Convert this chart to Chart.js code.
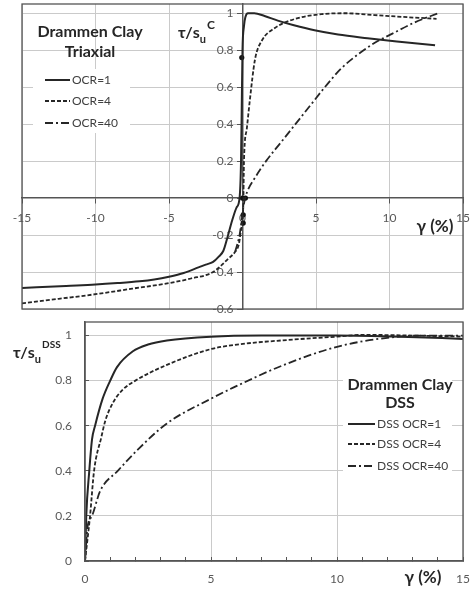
<!DOCTYPE html>
<html>
<head>
<meta charset="utf-8">
<script src="https://cdn.jsdelivr.net/npm/chart.js@4.4.0/dist/chart.umd.min.js"></script>
<style>
body { margin: 0; background: #fff; }
#wrap { position: relative; width: 470px; height: 589px; }
canvas { position: absolute; left: 0; }
</style>
</head>
<body>
<div id="wrap">
  <canvas id="triaxial" width="470" height="316" style="top:0"></canvas>
  <canvas id="dss" width="470" height="273" style="top:316px"></canvas>
</div>
<script>
// ---- triaxial data (strain %, tau/su) ----
const triStrain1 = [-15, -12, -10, -8.5, -7, -6, -5, -4, -3, -2.5, -2, -1.6, -1.3, -1.05, -0.7, -0.4, -0.2, -0.1, -0.05, 0, 0.1, 0.2, 0.37, 0.8, 1.5, 2.4, 3.5, 4.9, 6.5, 8.5, 10.5, 13.1];
const triTau1    = [-0.486, -0.475, -0.468, -0.46, -0.45, -0.44, -0.425, -0.405, -0.375, -0.36, -0.345, -0.315, -0.285, -0.22, -0.12, -0.05, 0, 0.2, 0.5, 0.8, 0.93, 0.98, 1.0, 1.0, 0.985, 0.96, 0.935, 0.908, 0.885, 0.865, 0.847, 0.827];
const triStrain4 = [-15, -12.5, -10, -7.5, -5, -3.5, -2, -1, -0.5, -0.25, -0.1, 0.05, 0.1, 0.3, 0.5, 0.85, 1.3, 2.2, 3.6, 5.4, 7, 9, 10.9, 13.2];
const triTau4    = [-0.57, -0.545, -0.52, -0.49, -0.46, -0.435, -0.4, -0.33, -0.29, -0.25, -0.17, -0.05, 0.2, 0.38, 0.53, 0.75, 0.85, 0.92, 0.97, 0.995, 1.0, 0.99, 0.98, 0.97];
const triStrain40 = [-0.5, -0.2, 0.1, 0.3, 0.85, 1.6, 2.6, 3.6, 4.6, 5.6, 6.7, 7.9, 9, 10.2, 11.7, 13.3];
const triTau40    = [-0.29, -0.2, -0.03, 0.03, 0.11, 0.2, 0.3, 0.4, 0.5, 0.6, 0.7, 0.78, 0.84, 0.89, 0.95, 1.0];
const triDotStrain = [-0.05, 0, 0.2, 0.05, 0.05];
const triDotTau    = [0.76, 0, 0, -0.09, -0.135];
const triXTicks = [-15, -10, -5, 0, 5, 10, 15];
const triYTicks = [-0.6, -0.4, -0.2, 0, 0.2, 0.4, 0.6, 0.8, 1];

// ---- DSS data ----
const dssStrain1 = [0, 0.05, 0.17, 0.28, 0.4, 0.7, 1, 1.27, 1.9, 2.5, 3.25, 5, 7, 10, 12.5, 15];
const dssTau1    = [0, 0.2, 0.4, 0.54, 0.6, 0.72, 0.8, 0.86, 0.93, 0.96, 0.978, 0.995, 1.0, 1.0, 0.995, 0.985];
const dssStrain4 = [0, 0.2, 0.36, 0.65, 0.8, 1.1, 1.5, 2, 3.25, 5, 5.9, 8, 10, 11, 13, 15];
const dssTau4    = [0, 0.2, 0.4, 0.55, 0.62, 0.7, 0.76, 0.8, 0.87, 0.94, 0.958, 0.98, 0.995, 1.003, 1.0, 0.995];
const dssStrain40 = [0, 0.1, 0.28, 0.6, 1.3, 2.06, 3.25, 5, 5.9, 7.9, 10, 12, 13.5, 15];
const dssTau40    = [0, 0.15, 0.2, 0.31, 0.4, 0.49, 0.61, 0.72, 0.77, 0.87, 0.95, 0.99, 1.0, 1.0];
const dssXLabels = [0, 5, 10, 15];
const dssYTicks = [0, 0.2, 0.4, 0.6, 0.8, 1];

const FONT = "Lato, 'DejaVu Sans', sans-serif";
const gridCol = '#cacaca';
const axisCol = '#555555';
const tickCol = '#595959';
const ink = '#262626';

function pts(xs, ys) {
  return xs.map((x, i) => ({ x: x, y: ys[i] }));
}

function lineSet(label, xs, ys, dash) {
  return {
    label: label,
    data: pts(xs, ys),
    borderColor: ink,
    borderWidth: dash.length ? 1.8 : 2,
    borderDash: dash,
    pointRadius: 0,
    cubicInterpolationMode: 'monotone',
    fill: false
  };
}

function drawTau(ctx, x, y, sup, supSize) {
  ctx.save();
  ctx.fillStyle = ink;
  ctx.textAlign = 'left';
  ctx.textBaseline = 'middle';
  ctx.font = 'bold 16px ' + FONT;
  ctx.fillText('τ/s', x, y);
  const w = ctx.measureText('τ/s').width;
  ctx.font = 'bold 11px ' + FONT;
  ctx.fillText('u', x + w, y + 6);
  const w2 = ctx.measureText('u').width;
  ctx.font = 'bold ' + supSize + 'px ' + FONT;
  ctx.fillText(sup, x + w + w2 + 1, y - 8);
  ctx.restore();
}

function drawLegend(ctx, chart, rows, x1, x2) {
  const sets = chart.data.datasets;
  ctx.save();
  ctx.font = '12px ' + FONT;
  ctx.textBaseline = 'middle';
  ctx.textAlign = 'left';
  rows.forEach((y, i) => {
    const ds = sets[i];
    ctx.strokeStyle = ds.borderColor;
    ctx.lineWidth = ds.borderWidth;
    ctx.setLineDash(ds.borderDash);
    ctx.beginPath();
    ctx.moveTo(x1, y);
    ctx.lineTo(x2, y);
    ctx.stroke();
    ctx.setLineDash([]);
    ctx.fillStyle = '#404040';
    ctx.fillText(ds.label, x2 + 2, y);
  });
  ctx.restore();
}

function frame(chart) {
  const a = chart.chartArea, ctx = chart.ctx;
  ctx.save();
  ctx.strokeStyle = axisCol;
  ctx.lineWidth = 1.3;
  ctx.strokeRect(a.left, a.top, a.right - a.left, a.bottom - a.top);
  ctx.restore();
}

// labels of an axis placed at x=0 sit right on the line, so nudge them left
function shiftLabels(s, dx) {
  if (s._shifted) return;
  const orig = s.drawLabels.bind(s);
  s.drawLabels = area => {
    s.ctx.save();
    s.ctx.translate(dx, 0);
    orig(area);
    s.ctx.restore();
  };
  s._shifted = true;
}

// ---------- triaxial ----------
const triDecor = {
  id: 'triDecor',
  afterDraw(chart) {
    const ctx = chart.ctx;
    frame(chart);
    ctx.save();
    ctx.fillStyle = '#fff';
    ctx.fillRect(33, 69, 97, 64);
    ctx.fillStyle = ink;
    ctx.font = 'bold 16px ' + FONT;
    ctx.textAlign = 'center';
    ctx.textBaseline = 'middle';
    ctx.fillText('Drammen Clay', 90, 32);
    ctx.fillText('Triaxial', 90, 52);
    ctx.font = 'bold 17px ' + FONT;
    ctx.fillText('γ (%)', 435, 227);
    ctx.restore();
    drawLegend(ctx, chart, [80, 101, 123], 45, 70);
    drawTau(ctx, 178, 33, 'C', 12);
  }
};

new Chart(document.getElementById('triaxial'), {
  type: 'line',
  data: {
    datasets: [
      lineSet('OCR=1', triStrain1, triTau1, []),
      lineSet('OCR=4', triStrain4, triTau4, [4, 2]),
      lineSet('OCR=40', triStrain40, triTau40, [8, 3, 2, 3]),
      {
        type: 'scatter',
        label: 'points',
        data: pts(triDotStrain, triDotTau),
        pointRadius: 2.6,
        pointBackgroundColor: '#111',
        pointBorderWidth: 0
      }
    ]
  },
  options: {
    responsive: false,
    animation: false,
    layout: { padding: { left: 22, right: 7, top: 4, bottom: 7 } },
    plugins: { legend: { display: false }, tooltip: { enabled: false } },
    scales: {
      x: {
        type: 'linear',
        min: -15, max: 15,
        position: { y: 0 },
        afterBuildTicks: s => { s.ticks = triXTicks.map(v => ({ value: v })); },
        afterFit: s => { s.paddingLeft = 0; s.paddingRight = 0; },
        grid: { color: c => (c.tick && c.tick.value === 0) ? 'rgba(0,0,0,0)' : gridCol, tickColor: axisCol, tickLength: 5 },
        border: { color: axisCol, width: 1.5 },
        ticks: { color: tickCol, font: { family: FONT, size: 12 }, padding: 8, maxRotation: 0, autoSkip: false, callback: v => String(v) }
      },
      y: {
        type: 'linear',
        min: -0.6, max: 1.05,
        position: { x: 0 },
        afterBuildTicks: s => { s.ticks = triYTicks.map(v => ({ value: v })); },
        afterFit: s => { s.paddingTop = 0; s.paddingBottom = 0; shiftLabels(s, -9); },
        grid: { color: c => (c.tick && c.tick.value === 0) ? 'rgba(0,0,0,0)' : gridCol, tickColor: axisCol, tickLength: 5 },
        border: { color: axisCol, width: 1.5 },
        ticks: { color: tickCol, font: { family: FONT, size: 12 }, padding: 4, autoSkip: false, callback: v => String(v) }
      }
    }
  },
  plugins: [triDecor]
});

// ---------- DSS ----------
const dssDecor = {
  id: 'dssDecor',
  afterDraw(chart) {
    const ctx = chart.ctx;
    frame(chart);
    ctx.save();
    ctx.fillStyle = '#fff';
    ctx.fillRect(343, 56, 109, 106);
    ctx.fillStyle = ink;
    ctx.font = 'bold 16px ' + FONT;
    ctx.textAlign = 'center';
    ctx.textBaseline = 'middle';
    ctx.fillText('Drammen Clay', 400, 69);
    ctx.fillText('DSS', 400, 87);
    ctx.font = 'bold 17px ' + FONT;
    ctx.fillText('γ (%)', 423, 262);
    ctx.restore();
    drawLegend(ctx, chart, [108, 128, 150], 348, 375);
    drawTau(ctx, 13, 37, 'DSS', 10);
  }
};

new Chart(document.getElementById('dss'), {
  type: 'line',
  data: {
    datasets: [
      lineSet('DSS OCR=1', dssStrain1, dssTau1, []),
      lineSet('DSS OCR=4', dssStrain4, dssTau4, [4, 2]),
      lineSet('DSS OCR=40', dssStrain40, dssTau40, [8, 3, 2, 3])
    ]
  },
  options: {
    responsive: false,
    animation: false,
    layout: { padding: { left: 0, right: 7, top: 6, bottom: 0 } },
    plugins: { legend: { display: false }, tooltip: { enabled: false } },
    scales: {
      x: {
        type: 'linear',
        min: 0, max: 15,
        afterFit: s => { s.height = 28; s.paddingLeft = 0; s.paddingRight = 0; },
        grid: { color: c => (c.tick && c.tick.value % 5 === 0 && c.tick.value > 0) ? gridCol : 'rgba(0,0,0,0)', tickColor: axisCol, tickLength: -4 },
        border: { color: axisCol, width: 1.5 },
        ticks: { stepSize: 1, color: tickCol, font: { family: FONT, size: 12 }, padding: 15, maxRotation: 0, autoSkip: false,
                 callback: v => dssXLabels.includes(v) ? String(v) : '' }
      },
      y: {
        type: 'linear',
        min: 0, max: 1.06,
        afterBuildTicks: s => { s.ticks = dssYTicks.map(v => ({ value: v })); },
        afterFit: s => { s.width = 85; s.paddingTop = 0; s.paddingBottom = 0; },
        grid: { color: c => (c.tick && c.tick.value > 0) ? gridCol : 'rgba(0,0,0,0)', tickColor: axisCol, tickLength: -4 },
        border: { color: axisCol, width: 1.5 },
        ticks: { color: tickCol, font: { family: FONT, size: 12 }, padding: 17, autoSkip: false, callback: v => String(v) }
      }
    }
  },
  plugins: [dssDecor]
});
</script>
</body>
</html>
